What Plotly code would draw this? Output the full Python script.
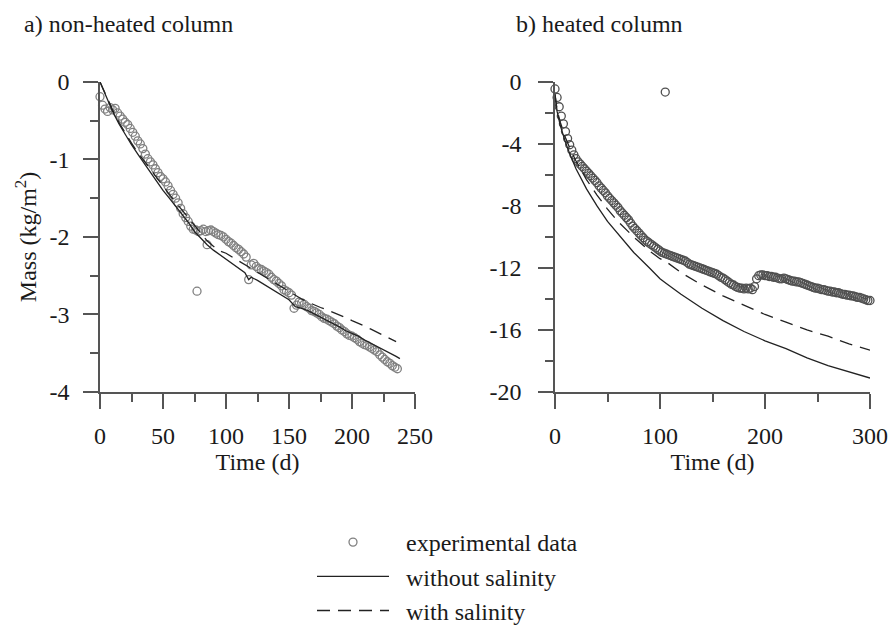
import plotly.graph_objects as go

# ---------------- data: a) non-heated column ----------------
a_exp_t = [0, 2, 4, 6, 8, 10, 12, 14, 16, 18, 20, 22, 24, 26, 28, 30, 32, 34, 36, 38,
           40, 42, 44, 46, 48, 50, 52, 54, 56, 58, 60, 62, 64, 66, 68, 70, 72, 74, 76, 77,
           78, 80, 82, 84, 85, 86, 88, 90, 92, 94, 96, 98, 100, 102, 104, 106, 108, 110, 112, 114,
           116, 118, 120, 122, 124, 126, 128, 130, 132, 134, 136, 138, 140, 142, 144, 146, 148, 150, 152, 154,
           156, 158, 160, 162, 164, 166, 168, 170, 172, 174, 176, 178, 180, 182, 184, 186, 188, 190, 192, 194,
           196, 198, 200, 202, 204, 206, 208, 210, 212, 214, 216, 218, 220, 222, 224, 226, 228, 230, 232, 234, 236]
a_exp_m = [-0.19, -0.30, -0.35, -0.38, -0.33, -0.36, -0.34, -0.40, -0.44, -0.48, -0.52, -0.55, -0.60, -0.65, -0.70, -0.76, -0.80, -0.86, -0.93, -0.99,
           -1.03, -1.07, -1.12, -1.17, -1.22, -1.25, -1.29, -1.34, -1.40, -1.45, -1.50, -1.56, -1.63, -1.70, -1.75, -1.80, -1.86, -1.90, -1.91, -2.70,
           -1.93, -1.92, -1.90, -1.93, -2.10, -1.92, -1.91, -1.93, -1.95, -1.97, -1.98, -2.00, -2.03, -2.06, -2.08, -2.11, -2.14, -2.16, -2.19, -2.22,
           -2.26, -2.55, -2.36, -2.34, -2.38, -2.41, -2.42, -2.44, -2.46, -2.48, -2.52, -2.55, -2.57, -2.60, -2.63, -2.68, -2.70, -2.72, -2.75, -2.92,
           -2.88, -2.84, -2.85, -2.87, -2.90, -2.92, -2.95, -2.96, -2.98, -3.00, -3.03, -3.05, -3.06, -3.08, -3.10, -3.12, -3.15, -3.17, -3.20, -3.22,
           -3.25, -3.27, -3.28, -3.30, -3.32, -3.35, -3.37, -3.39, -3.40, -3.42, -3.44, -3.46, -3.48, -3.52, -3.55, -3.58, -3.61, -3.63, -3.66, -3.68, -3.70]

a_mod_t = [0, 5, 10, 15, 20, 25, 30, 35, 40, 45, 50, 55, 60, 65, 70, 75, 80, 85, 90, 95,
           100, 105, 110, 115, 118, 120, 125, 130, 135, 140, 145, 150, 155, 160, 165, 170, 175, 180, 185, 190,
           195, 200, 205, 210, 215, 220, 225, 230, 235, 238]
a_nosalt_m = [0, -0.20, -0.38, -0.54, -0.68, -0.81, -0.93, -1.05, -1.17, -1.28, -1.40, -1.50, -1.60, -1.71, -1.81, -1.93, -2.02, -2.10, -2.17, -2.23,
              -2.29, -2.34, -2.40, -2.46, -2.55, -2.52, -2.56, -2.61, -2.66, -2.72, -2.77, -2.81, -2.90, -2.92, -2.95, -2.99, -3.04, -3.08, -3.12, -3.16,
              -3.21, -3.24, -3.28, -3.33, -3.37, -3.41, -3.45, -3.49, -3.54, -3.57]
a_salt_t = [0, 5, 10, 15, 20, 25, 30, 35, 40, 45, 50, 55, 60, 65, 70, 75, 80, 85, 90, 95,
            100, 105, 110, 115, 120, 125, 130, 135, 140, 145, 150, 155, 160, 165, 170, 175, 180, 185, 190, 195,
            200, 205, 210, 215, 220, 225, 230, 235]
a_salt_m = [0, -0.19, -0.36, -0.52, -0.66, -0.79, -0.91, -1.02, -1.13, -1.24, -1.35, -1.45, -1.55, -1.65, -1.75, -1.86, -1.96, -2.05, -2.12, -2.18,
            -2.21, -2.26, -2.31, -2.36, -2.41, -2.46, -2.51, -2.56, -2.61, -2.66, -2.71, -2.76, -2.80, -2.84, -2.88, -2.91, -2.94, -2.97, -3.00, -3.04,
            -3.08, -3.11, -3.15, -3.19, -3.23, -3.27, -3.31, -3.35]

# ---------------- data: b) heated column ----------------
b_exp_t = [0, 2, 4, 6, 8, 10, 12, 14, 16, 18, 20, 22, 24, 26, 28, 30, 32, 34, 36, 38,
           40, 42, 44, 46, 48, 50, 52, 54, 56, 58, 60, 62, 64, 66, 68, 70, 72, 74, 76, 78,
           80, 82, 84, 86, 88, 90, 92, 94, 96, 98, 100, 102, 104, 105, 106, 108, 110, 112, 114, 116,
           118, 120, 122, 124, 126, 128, 130, 132, 134, 136, 138, 140, 142, 144, 146, 148, 150, 152, 154, 156,
           158, 160, 162, 164, 166, 168, 170, 172, 174, 176, 178, 180, 182, 184, 186, 188, 190, 192, 194, 196,
           198, 200, 202, 204, 206, 208, 210, 212, 214, 216, 218, 220, 222, 224, 226, 228, 230, 232, 234, 236,
           238, 240, 242, 244, 246, 248, 250, 252, 254, 256, 258, 260, 262, 264, 266, 268, 270, 272, 274, 276,
           278, 280, 282, 284, 286, 288, 290, 292, 294, 296, 298, 300]
b_exp_m = [-0.45, -1.0, -1.6, -2.2, -2.7, -3.2, -3.65, -4.05, -4.4, -4.7, -4.95, -5.15, -5.3, -5.45, -5.6, -5.75, -5.9, -6.05, -6.2, -6.35,
           -6.5, -6.7, -6.85, -7.0, -7.15, -7.35, -7.5, -7.65, -7.8, -7.95, -8.1, -8.3, -8.45, -8.6, -8.75, -8.9, -9.1, -9.3, -9.45, -9.6,
           -9.75, -9.9, -10.05, -10.2, -10.3, -10.4, -10.5, -10.6, -10.7, -10.8, -10.9, -11.0, -11.05, -0.65, -11.1, -11.15, -11.2, -11.25, -11.3, -11.35,
           -11.4, -11.45, -11.5, -11.55, -11.65, -11.75, -11.8, -11.85, -11.9, -11.95, -12.0, -12.05, -12.1, -12.15, -12.2, -12.25, -12.3, -12.35, -12.4, -12.5,
           -12.6, -12.65, -12.75, -12.85, -12.95, -13.05, -13.1, -13.2, -13.25, -13.3, -13.3, -13.35, -13.3, -13.35, -13.3, -13.4, -13.2, -12.7, -12.5, -12.45,
           -12.45, -12.5, -12.5, -12.55, -12.55, -12.6, -12.6, -12.65, -12.7, -12.7, -12.65, -12.7, -12.75, -12.8, -12.85, -12.85, -12.9, -12.9, -12.95, -13.0,
           -13.05, -13.1, -13.15, -13.2, -13.25, -13.3, -13.3, -13.35, -13.4, -13.4, -13.45, -13.5, -13.5, -13.55, -13.55, -13.6, -13.6, -13.65, -13.7, -13.7,
           -13.75, -13.75, -13.8, -13.8, -13.85, -13.9, -13.9, -13.95, -14.0, -14.05, -14.1, -14.1]

b_mod_t = [0, 2, 5, 10, 15, 20, 30, 40, 50, 60, 75, 90, 100, 106, 120, 140, 160, 180, 200, 220,
           240, 260, 280, 300]
b_nosalt_m = [-0.8, -1.9, -2.8, -3.9, -4.8, -5.6, -6.9, -8.0, -9.0, -9.8, -11.0, -12.0, -12.7, -13.0, -13.7, -14.6, -15.4, -16.1, -16.7, -17.2,
              -17.8, -18.3, -18.7, -19.1]
b_salt_m = [-0.8, -1.8, -2.6, -3.6, -4.4, -5.1, -6.3, -7.3, -8.2, -9.0, -10.0, -10.9, -11.4, -11.6, -12.3, -13.1, -13.8, -14.4, -15.0, -15.5,
            -16.0, -16.4, -16.9, -17.3]

# ---------------- axis ticks ----------------
a_xticks = [0, 50, 100, 150, 200, 250]
a_yticks = [0, -1, -2, -3, -4]
a_yticklabels = ["0", "-1", "-2", "-3", "-4"]
b_xticks = [0, 100, 200, 300]
b_yticks = [0, -4, -8, -12, -16, -20]
b_yticklabels = ["0", "-4", "-8", "-12", "-16", "-20"]

# ---------------- text ----------------
panel_titles = ["a) non-heated column", "b) heated column"]
x_title = "Time (d)"
y_title = "Mass (kg/m<sup>2</sup>)"
legend_names = ["experimental data", "without salinity", "with salinity"]

FONT = "Times New Roman, Liberation Serif, Times, serif"
AXC = "#555555"
TXT = "#1a1a1a"
FS = 24

fig = go.Figure()

def add_panel(xa, ya, et, em, nt, nm, st, sm, show, mcol):
    fig.add_trace(go.Scatter(x=et, y=em, mode="markers", name="\u00a0\u00a0" + legend_names[0],
                             marker=dict(symbol="circle-open", size=8, color=mcol, line=dict(width=1.3)),
                             xaxis=xa, yaxis=ya, showlegend=show, legendgroup="exp", cliponaxis=False))
    fig.add_trace(go.Scatter(x=nt, y=nm, mode="lines", name="\u00a0\u00a0" + legend_names[1],
                             line=dict(color="#222222", width=1.3),
                             xaxis=xa, yaxis=ya, showlegend=show, legendgroup="ns", cliponaxis=False))
    fig.add_trace(go.Scatter(x=st, y=sm, mode="lines", name="\u00a0\u00a0" + legend_names[2],
                             line=dict(color="#222222", width=1.3, dash="13px,8px"),
                             xaxis=xa, yaxis=ya, showlegend=show, legendgroup="s", cliponaxis=False))

add_panel("x", "y", a_exp_t, a_exp_m, a_mod_t, a_nosalt_m, a_salt_t, a_salt_m, True, "#808080")
add_panel("x2", "y2", b_exp_t, b_exp_m, b_mod_t, b_nosalt_m, b_mod_t, b_salt_m, False, "#505050")

W, H = 890, 633
ydom = [1 - 397 / H, 1 - 83 / H]

common = dict(showline=True, linecolor=AXC, linewidth=1.5, ticks="outside", ticklen=15,
              tickwidth=1.5, tickcolor=AXC, showgrid=False, zeroline=False,
              tickfont=dict(family=FONT, size=FS, color=TXT), automargin=False)

def minor(d):
    return dict(dtick=d, ticklen=8, ticks="outside", tickcolor=AXC, tickwidth=1.5)

fig.update_layout(
    width=W, height=H, margin=dict(l=0, r=0, t=0, b=0),
    paper_bgcolor="white", plot_bgcolor="white",
    font=dict(family=FONT, size=FS, color=TXT),
    xaxis=dict(domain=[100 / W, 415 / W], range=[0, 250], tickvals=a_xticks,
               minor=minor(25),
               title=dict(text=x_title, font=dict(family=FONT, size=FS, color=TXT), standoff=2),
               ticklabelstandoff=6, anchor="y", **common),
    yaxis=dict(domain=ydom, range=[-4, 0], tickvals=a_yticks, ticktext=a_yticklabels,
               minor=minor(0.5),
               title=dict(text=y_title, font=dict(family=FONT, size=FS, color=TXT), standoff=6),
               ticklabelstandoff=9, anchor="x", **common),
    xaxis2=dict(domain=[555 / W, 870 / W], range=[0, 300], tickvals=b_xticks,
                minor=minor(50),
                title=dict(text=x_title, font=dict(family=FONT, size=FS, color=TXT), standoff=2),
                ticklabelstandoff=6, anchor="y2", **common),
    yaxis2=dict(domain=ydom, range=[-20, 0], tickvals=b_yticks, ticktext=b_yticklabels,
                minor=minor(2),
                ticklabelstandoff=12, anchor="x2", **common),
    legend=dict(x=312 / W, y=1 - 527 / H, xanchor="left", yanchor="top",
                font=dict(family=FONT, size=FS, color=TXT), bgcolor="rgba(0,0,0,0)",
                itemwidth=72, tracegroupgap=0),
    showlegend=True,
)

for txt, xp in zip(panel_titles, [22, 514]):
    fig.add_annotation(text=txt, x=xp / W, y=1 - 24 / H, xref="paper", yref="paper",
                       xanchor="left", yanchor="middle", showarrow=False,
                       font=dict(family=FONT, size=FS, color=TXT))

fig.write_html("out.html")
